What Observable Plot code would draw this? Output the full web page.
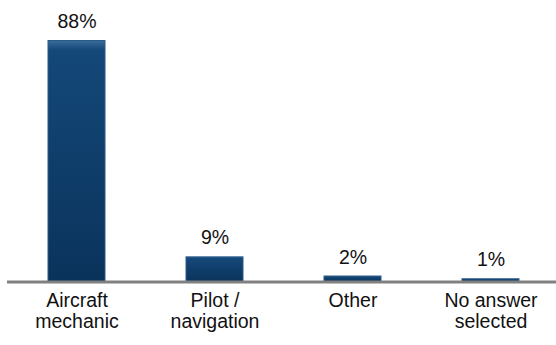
<!DOCTYPE html>
<html>
<head>
<meta charset="utf-8">
<script src="https://cdn.jsdelivr.net/npm/d3@7"></script>
<script src="https://cdn.jsdelivr.net/npm/@observablehq/plot@0.6"></script>
<style>
  html, body { margin: 0; padding: 0; background: #fff; }
  svg { display: block; }
</style>
</head>
<body>
<div id="chart"></div>
<script>
// Survey answers and their shares (percent)
const categories = ["Aircraft mechanic", "Pilot / navigation", "Other", "No answer selected"];
const tickLabels = ["Aircraft\nmechanic", "Pilot /\nnavigation", "Other", "No answer\nselected"];
const shares = [88, 9, 2, 1];

const data = categories.map((c, i) => ({category: c, share: shares[i], label: tickLabels[i]}));

// Gradient definitions for the bevelled bar fill
const defs = () => {
  const d = d3.create("svg:defs");
  const g = d.append("linearGradient").attr("id", "barFill")
    .attr("x1", 0).attr("y1", 0).attr("x2", 0).attr("y2", 1);
  g.append("stop").attr("offset", "0").attr("stop-color", "#3a6c9a");
  g.append("stop").attr("offset", "0.04").attr("stop-color", "#144879");
  g.append("stop").attr("offset", "1").attr("stop-color", "#0a335b");
  return d.node();
};

const chart = Plot.plot({
  width: 556,
  height: 345,
  marginLeft: 7,
  marginRight: 0,
  marginTop: 0,
  marginBottom: 0,
  style: {fontFamily: "'Liberation Sans', Arial, sans-serif", fontSize: "19px", color: "#111", background: "#fff"},
  x: {domain: categories, range: [6, 560], paddingInner: 0.59, paddingOuter: 0.295, axis: null},
  y: {domain: [0, 88], range: [281.5, 40.5], axis: null},
  marks: [
    defs,
    Plot.barY(data, {x: "category", y: "share", fill: "url(#barFill)", stroke: "#2c5b88", strokeWidth: 1}),
    Plot.ruleY([0], {stroke: "#808080", strokeWidth: 3}),
    // value labels above each bar
    Plot.text(data, {x: "category", y: "share", text: d => `${d.share}%`, lineAnchor: "bottom", dy: -13, fontSize: 19.5, fill: "#111"}),
    // category labels below the baseline
    Plot.text(data, {x: "category", y: () => 0, text: "label", lineAnchor: "top", dy: 9, fontSize: 19.5, lineHeight: 1.12, fill: "#111"})
  ]
});

document.getElementById("chart").append(chart);
</script>
</body>
</html>
